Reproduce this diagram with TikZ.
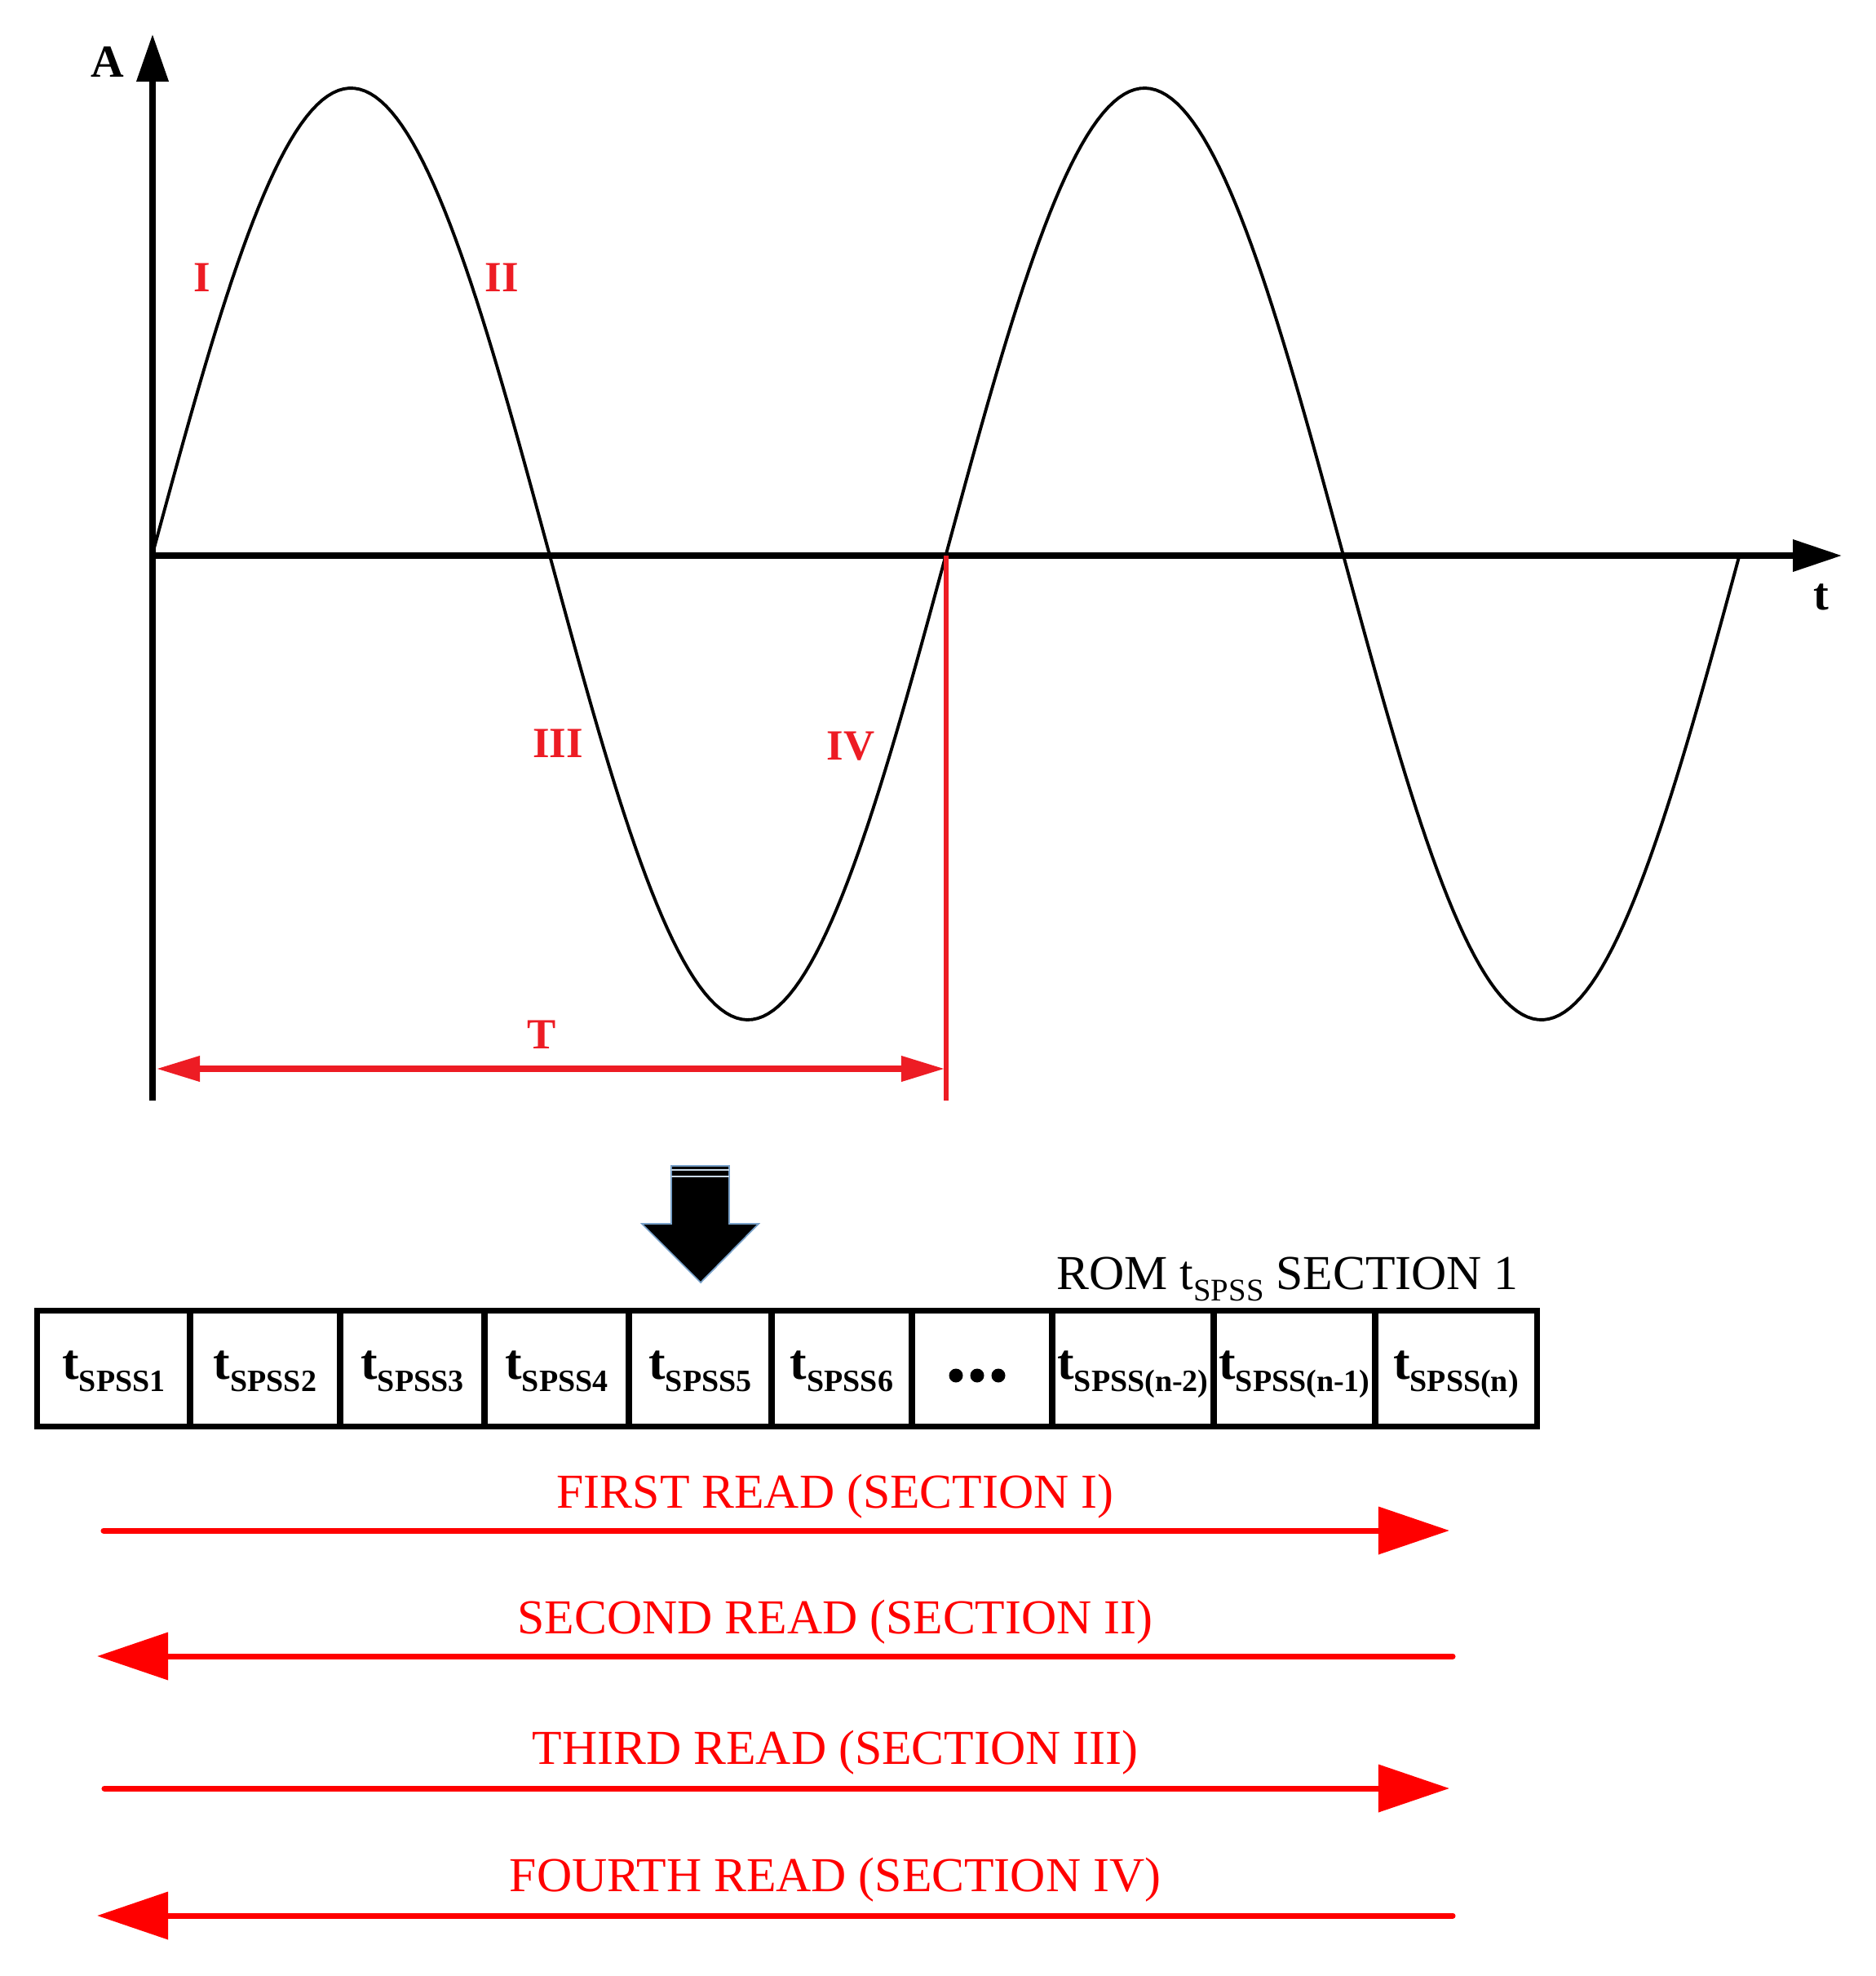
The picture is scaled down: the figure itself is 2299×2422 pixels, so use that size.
\documentclass[tikz,border=0pt]{standalone}
\usepackage{fontspec}
\setmainfont{Liberation Serif}
\usetikzlibrary{arrows.meta}
\definecolor{tred}{RGB}{237,28,36}
\definecolor{rred}{RGB}{255,0,0}
\definecolor{edgeblue}{RGB}{120,160,200}
\newcommand{\fsz}[1]{\fontsize{#1}{#1}\selectfont}
\newcommand{\cellt}[1]{\fsz{17.5}\bfseries t\raisebox{-4.3pt}{\fsz{10.8}\bfseries #1}}
\newcommand{\romsub}[1]{\raisebox{-4pt}{\fsz{11}#1}}
\begin{document}
\begin{tikzpicture}[x=0.01cm,y=-0.01cm,
  axis/.style={line width=2pt, black},
  wave/.style={line width=1.1pt, black},
  numlabel/.style={text=tred, font=\fsz{15}\bfseries, inner sep=0pt, anchor=base},
  cellbox/.style={draw=black, line width=2pt, minimum height=1.41cm, inner sep=0pt},
  celltxt/.style={inner sep=0pt, anchor=base},
  readarrow/.style={draw=rred, line width=2pt, line cap=round, -{Triangle[length=0.87cm,width=0.57cm]}},
  readtxt/.style={text=rred, font=\fsz{17}, inner sep=0pt, anchor=base},
  tarrow/.style={draw=tred, line width=2pt, {Triangle[length=0.53cm,width=0.3cm]}-{Triangle[length=0.53cm,width=0.3cm]}},
]
\useasboundingbox (0,0) rectangle (2299,2422);
\fill[white] (0,0) rectangle (2299,2422);

% axes
\coordinate (O) at (187,681);
\coordinate (ytop) at (187,42);
\coordinate (ybot) at (187,1349);
\coordinate (xend) at (2258,681);
\draw[axis, -{Triangle[length=0.58cm,width=0.38cm]}] (ybot) -- (ytop);
\draw[axis, -{Triangle[length=0.6cm,width=0.38cm]}] (O) -- (xend);
\node[font=\fsz{16}\bfseries, anchor=base, inner sep=0pt] (A) at (132,95) {A};
\node[font=\fsz{16}\bfseries, anchor=base, inner sep=0pt] (tlab) at (2233,748) {t};

% sine wave
\draw[wave] plot[domain=0:1946, samples=300] ({187+\x},{679-571*sin(\x*0.369990)});

% period marker
\coordinate (P) at (1160,681);
\coordinate (Pb) at (1160,1349);
\draw[tred, line width=1.6pt] (P) -- (Pb);
\coordinate (Tl) at (192,1310);
\coordinate (Tr) at (1158,1310);
\draw[tarrow] (Tl) -- (Tr);
\node[numlabel] (T) at (664,1285) {T};

% section numerals
\node[numlabel] (n1) at (248,358) {I};
\node[numlabel] (n2) at (615,358) {II};
\node[numlabel] (n3) at (684,928) {III};
\node[numlabel] (n4) at (1043,931) {IV};

% down block arrow
\filldraw[fill=black, draw=edgeblue, line width=0.5pt]
  (823,1429) -- (894,1429) -- (894,1500) -- (930,1500) -- (859,1572) -- (787,1500) -- (823,1500) -- cycle;
\draw[edgeblue!40!white, line width=0.6pt] (823,1434) -- (894,1434);
\draw[edgeblue!40!white, line width=0.6pt] (823,1442) -- (894,1442);

% ROM label
\node[anchor=base west, inner sep=0pt] (rom) at (1295,1580) {\fsz{17}ROM t\romsub{SPSS} SECTION 1};

% cells
\node[cellbox, minimum width=1.87cm] (c1) at (139.5,1677.5) {};
\node[cellbox, minimum width=1.84cm] (c2) at (325,1677.5) {};
\node[cellbox, minimum width=1.77cm] (c3) at (505.5,1677.5) {};
\node[cellbox, minimum width=1.77cm] (c4) at (682.5,1677.5) {};
\node[cellbox, minimum width=1.75cm] (c5) at (858.5,1677.5) {};
\node[cellbox, minimum width=1.72cm] (c6) at (1032,1677.5) {};
\node[cellbox, minimum width=1.72cm] (c7) at (1204,1677.5) {};
\node[cellbox, minimum width=1.98cm] (c8) at (1389,1677.5) {};
\node[cellbox, minimum width=1.98cm] (c9) at (1587,1677.5) {};
\node[cellbox, minimum width=1.98cm] (c10) at (1785,1677.5) {};

\node[celltxt] (l1) at (139.5,1690) {\cellt{SPSS1}};
\node[celltxt] (l2) at (325,1690) {\cellt{SPSS2}};
\node[celltxt] (l3) at (505.5,1690) {\cellt{SPSS3}};
\node[celltxt] (l4) at (682.5,1690) {\cellt{SPSS4}};
\node[celltxt] (l5) at (858.5,1690) {\cellt{SPSS5}};
\node[celltxt] (l6) at (1032,1690) {\cellt{SPSS6}};
\node[celltxt] (l8) at (1389,1690) {\cellt{SPSS(n-2)}};
\node[celltxt] (l9) at (1587,1690) {\cellt{SPSS(n-1)}};
\node[celltxt] (l10) at (1785,1690) {\cellt{SPSS(n)}};
\fill[black] (1172,1686) circle[radius=8.5];
\fill[black] (1198,1686) circle[radius=8.5];
\fill[black] (1224,1686) circle[radius=8.5];

% read arrows
\coordinate (r1a) at (127,1876);  \coordinate (r1b) at (1777,1876);
\coordinate (r2a) at (1781,2030); \coordinate (r2b) at (119,2030);
\coordinate (r3a) at (128,2192);  \coordinate (r3b) at (1777,2192);
\coordinate (r4a) at (1781,2348); \coordinate (r4b) at (119,2348);
\draw[readarrow] (r1a) -- (r1b);
\draw[readarrow] (r2a) -- (r2b);
\draw[readarrow] (r3a) -- (r3b);
\draw[readarrow] (r4a) -- (r4b);
\node[readtxt] (t1) at (1024,1848) {FIRST READ (SECTION I)};
\node[readtxt] (t2) at (1024,2002) {SECOND READ (SECTION II)};
\node[readtxt] (t3) at (1024,2162) {THIRD READ (SECTION III)};
\node[readtxt] (t4) at (1024,2318) {FOURTH READ (SECTION IV)};
\end{tikzpicture}
\end{document}
